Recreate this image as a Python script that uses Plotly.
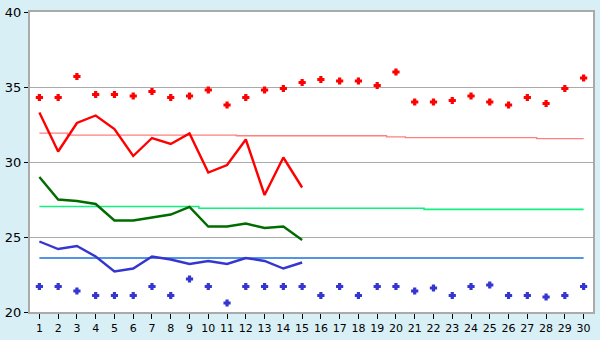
import plotly.graph_objects as go

days = list(range(1, 31))
max_pts = [34.3, 34.3, 35.7, 34.5, 34.5, 34.4, 34.7, 34.3, 34.4, 34.8,
           33.8, 34.3, 34.8, 34.9, 35.3, 35.5, 35.4, 35.4, 35.1, 36.0,
           34.0, 34.0, 34.1, 34.4, 34.0, 33.8, 34.3, 33.9, 34.9, 35.6]
min_pts = [21.7, 21.7, 21.4, 21.1, 21.1, 21.1, 21.7, 21.1, 22.2, 21.7,
           20.6, 21.7, 21.7, 21.7, 21.7, 21.1, 21.7, 21.1, 21.7, 21.7,
           21.4, 21.6, 21.1, 21.7, 21.8, 21.1, 21.1, 21.0, 21.1, 21.7]
line_days = list(range(1, 16))
max_line = [33.3, 30.7, 32.6, 33.1, 32.2, 30.4, 31.6, 31.2, 31.9, 29.3,
            29.8, 31.5, 27.8, 30.3, 28.3]
mean_line = [29.0, 27.5, 27.4, 27.2, 26.1, 26.1, 26.3, 26.5, 27.0, 25.7,
             25.7, 25.9, 25.6, 25.7, 24.8]
min_line = [24.7, 24.2, 24.4, 23.7, 22.7, 22.9, 23.7, 23.5, 23.2, 23.4,
            23.2, 23.6, 23.4, 22.9, 23.3]
max_normal = [31.92, 31.92, 31.79, 31.79, 31.79, 31.79, 31.79, 31.79, 31.79, 31.79,
              31.79, 31.75, 31.75, 31.75, 31.75, 31.75, 31.75, 31.75, 31.75, 31.68,
              31.62, 31.62, 31.62, 31.62, 31.62, 31.62, 31.62, 31.56, 31.56, 31.56]
mean_normal = [27.03, 27.03, 27.03, 27.03, 27.03, 27.03, 27.03, 27.03, 27.03, 26.92,
               26.92, 26.92, 26.92, 26.92, 26.92, 26.92, 26.92, 26.92, 26.92, 26.92,
               26.92, 26.84, 26.84, 26.84, 26.84, 26.84, 26.84, 26.84, 26.84, 26.84]
min_normal = [23.6] * 30
y_ticks = [20, 25, 30, 35, 40]

fig = go.Figure()
fig.add_trace(go.Scatter(x=days, y=max_normal, mode="lines", line=dict(color="#ff7f7f", width=1.3, shape="hvh")))
fig.add_trace(go.Scatter(x=days, y=mean_normal, mode="lines", line=dict(color="#10f080", width=1.6, shape="hvh")))
fig.add_trace(go.Scatter(x=days, y=min_normal, mode="lines", line=dict(color="#1a70dc", width=1.6)))
fig.add_trace(go.Scatter(x=line_days, y=max_line, mode="lines", line=dict(color="#ff0000", width=2.4)))
fig.add_trace(go.Scatter(x=line_days, y=mean_line, mode="lines", line=dict(color="#006c00", width=2.4)))
fig.add_trace(go.Scatter(x=line_days, y=min_line, mode="lines", line=dict(color="#3535d0", width=2.4)))
fig.add_trace(go.Scatter(x=days, y=max_pts, mode="markers",
                         marker=dict(symbol="cross", size=5, color="#ff0000", line=dict(width=1.2, color="#ff0000"))))
fig.add_trace(go.Scatter(x=days, y=min_pts, mode="markers",
                         marker=dict(symbol="cross", size=5, color="#3535d0", line=dict(width=1.2, color="#3535d0"))))

fig.update_layout(
    width=600, height=340,
    margin=dict(l=20, r=5, t=5, b=20),
    paper_bgcolor="#d8eff6", plot_bgcolor="#ffffff",
    showlegend=False,
    font=dict(family="DejaVu Sans", size=11, color="#000000"),
)
fig.update_xaxes(range=[0.5, 30.5], tickmode="array", tickvals=days, ticktext=[str(d) for d in days],
                 ticks="outside", ticklen=5, tickcolor="#000000", showgrid=False, zeroline=False,
                 showline=True, linecolor="#aaaaaa", linewidth=2, mirror=True, tickfont=dict(size=11),
                 ticklabeloverflow="allow")
fig.update_yaxes(range=[20, 40], tickmode="array", tickvals=y_ticks, ticktext=[str(v) for v in y_ticks],
                 ticks="outside", ticklen=4, tickcolor="#000000", showgrid=True, gridcolor="#aaaaaa",
                 gridwidth=1, zeroline=False, showline=True, linecolor="#aaaaaa", linewidth=2, mirror=True,
                 tickfont=dict(size=13), ticklabeloverflow="allow")

fig.write_html("out.html")
